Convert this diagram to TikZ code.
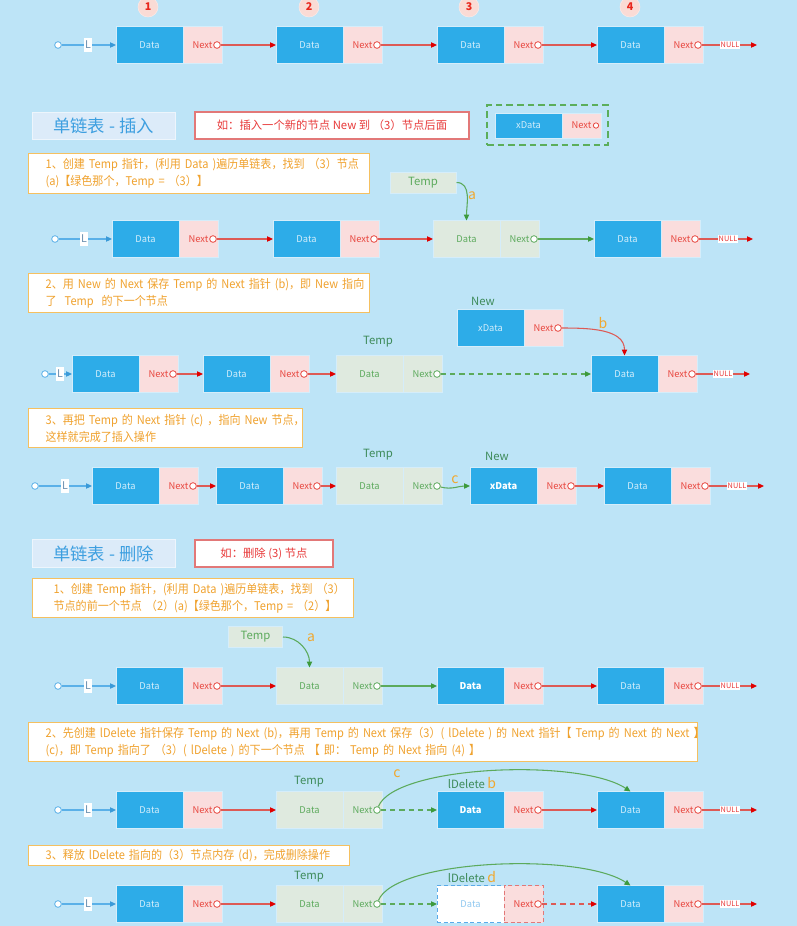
\documentclass[tikz,border=0pt]{standalone}
\usepackage{fontspec}
\setmainfont{Noto Sans CJK SC}
\newfontfamily\ofont[FakeStretch=0.92]{Noto Sans CJK SC}
\usetikzlibrary{arrows.meta}
\definecolor{bgc}{HTML}{BDE4F7}
\definecolor{dblue}{HTML}{2DACE8}
\definecolor{dtext}{HTML}{D4EEFB}
\definecolor{npink}{HTML}{FADDDD}
\definecolor{ntext}{HTML}{E8473F}
\definecolor{edgec}{HTML}{D5EDFA}
\definecolor{gfill}{HTML}{DFEADF}
\definecolor{gtext}{HTML}{5DAA5D}
\definecolor{gline}{HTML}{5CAA5C}
\definecolor{gtip}{HTML}{3D9A3D}
\definecolor{rline}{HTML}{DD5A55}
\definecolor{rtip}{HTML}{E00000}
\definecolor{bline}{HTML}{5AB0E8}
\definecolor{btip}{HTML}{3A9AD8}
\definecolor{lgray}{HTML}{6A8FAF}
\definecolor{numfill}{HTML}{FADBD5}
\definecolor{numtext}{HTML}{E8281E}
\definecolor{titfill}{HTML}{DCEBF9}
\definecolor{tittext}{HTML}{3D9FE0}
\definecolor{redbox}{HTML}{E27878}
\definecolor{redtext}{HTML}{E83A3A}
\definecolor{obord}{HTML}{F5C060}
\definecolor{otext}{HTML}{F0A22E}
\definecolor{dgreen}{HTML}{5BAE5B}
\definecolor{namec}{HTML}{3E8B5A}
\definecolor{letc}{HTML}{F0A830}
\definecolor{dashblue}{HTML}{5AAAE8}
\definecolor{ghosttext}{HTML}{90C8F0}
\newcommand\fsz[1]{\fontsize{#1pt}{#1pt}\selectfont}
\tikzset{
  box/.style={rectangle, inner sep=0pt, outer sep=0pt, draw=edgec, line width=0.75pt, minimum height=27.75pt},
  datab/.style={box, fill=dblue, text=dtext, minimum width=50.25pt, font=\fsz{7}},
  datad/.style={datab, text=white, font=\fsz{7}\bfseries},
  gdata/.style={box, fill=gfill, text=gtext, minimum width=50.25pt, font=\fsz{7}},
  nextb/.style={box, fill=npink, text=ntext, minimum width=29.25pt, font=\fsz{7}},
  gnext/.style={box, fill=gfill, text=gtext, minimum width=29.25pt, font=\fsz{7}},
  ghostd/.style={datab, fill=white, draw=dashblue, dash pattern=on 3pt off 2pt, text=ghosttext},
  ghostn/.style={nextb, draw=redbox, dash pattern=on 3pt off 2pt},
  ptrr/.style={circle, draw=ntext, fill=white, line width=0.6pt, minimum size=5pt, inner sep=0pt},
  ptrg/.style={ptrr, draw=gtext},
  startc/.style={circle, draw=bline, fill=white, line width=0.6pt, minimum size=5pt, inner sep=0pt},
  Llab/.style={fill=white, text=lgray, font=\fsz{8}, inner xsep=1pt, inner ysep=0.5pt, minimum height=11pt},
  nulll/.style={fill=white, text=redtext, font=\fsz{5.5}, inner sep=0.6pt},
  numc/.style={circle, fill=numfill, draw=numfill!60!white, text=numtext, font=\fsz{8}\bfseries, minimum size=15pt, inner sep=0pt},
  titleb/.style={rectangle, fill=titfill, draw=titfill!50!white, line width=0.75pt, text=tittext, font=\fsz{13}, minimum width=107.25pt, minimum height=20.5pt, inner sep=0pt},
  redb/.style={rectangle, fill=white, draw=redbox, line width=1pt, text=redtext, font=\fsz{8.5}, minimum height=20.25pt, inner sep=0pt},
  obox/.style={rectangle, fill=white, draw=obord, line width=1pt, text=otext, font=\ofont\fontsize{9pt}{12.75pt}\selectfont, align=left, anchor=north west, inner xsep=12.75pt, inner ysep=1pt},
  dashb/.style={rectangle, draw=dgreen, line width=1.5pt, dash pattern=on 5pt off 3pt, minimum width=90.75pt, minimum height=30pt, inner sep=0pt},
  tempb/.style={rectangle, fill=gfill, draw=edgec, line width=0.75pt, text=gtext, font=\fsz{8.5}, minimum height=15.75pt, inner sep=0pt},
  namel/.style={text=namec, font=\fsz{8.5}, inner sep=0pt},
  letl/.style={text=letc, font=\fsz{10.5}, inner sep=0pt},
  rline/.style={draw=rline, line width=0.8pt},
  rarr/.style={rline, -{Triangle[length=4.5pt,width=4pt,color=rtip]}},
  rdash/.style={rarr, dash pattern=on 4pt off 3pt},
  garr/.style={draw=gline, line width=0.8pt, -{Triangle[length=4.5pt,width=4pt,color=gtip]}},
  gdash/.style={garr, dash pattern=on 4pt off 3pt},
  bline/.style={draw=bline, line width=0.8pt},
  barr/.style={bline, -{Triangle[length=4.5pt,width=4pt,color=btip]}},
}
% name, x-left, y, data style, next style, pointer style, data text
\newcommand\LL[7]{%
  \node[#4, anchor=west] (#1) at (#2,#3) {#7};
  \node[#5, anchor=west] (#1n) at (#1.east) {Next};
  \node[#6] (#1p) at ([xshift=-3.75pt]#1n.east) {};
}
% prefix, circle x, L x, y, first node
\newcommand\LStart[5]{%
  \node[startc] (#1s) at (#2,#4) {};
  \node[Llab] (#1l) at (#3,#4) {L};
  \draw[bline] (#1s) -- (#1l);
  \draw[barr] (#1l) -- (#5.west);
}
% prefix, last pointer, null x, end x, y
\newcommand\LEnd[5]{%
  \node[nulll] (#1null) at (#3,#5) {NULL};
  \coordinate (#1end) at (#4,#5);
  \draw[rline] (#2) -- (#1null);
  \draw[rarr] (#1null) -- (#1end);
}
\begin{document}
\begin{tikzpicture}[x=0.75pt,y=-0.75pt]
\fill[bgc] (0,0) rectangle (797,926);
\useasboundingbox (0,0) rectangle (797,926);

% ---------- row 1 ----------
\node[numc] (num1) at (148,7) {1};
\node[numc] (num2) at (309,7) {2};
\node[numc] (num3) at (469,7) {3};
\node[numc] (num4) at (630,7) {4};
\LL{a1}{116}{45}{datab}{nextb}{ptrr}{Data}
\LL{a2}{276}{45}{datab}{nextb}{ptrr}{Data}
\LL{a3}{437}{45}{datab}{nextb}{ptrr}{Data}
\LL{a4}{597}{45}{datab}{nextb}{ptrr}{Data}
\LStart{a}{58}{88}{45}{a1}
\draw[rarr] (a1p) -- (a2.west);
\draw[rarr] (a2p) -- (a3.west);
\draw[rarr] (a3p) -- (a4.west);
\LEnd{a}{a4p}{730}{757}{45}

% ---------- insert header ----------
\node[titleb] (institle) at (103.5,126) {单链表 - 插入};
\node[redb, minimum width=205.5pt] (insex) at (332,125.5) {如：插入一个新的节点 New 到 （3）节点后面};
\node[dashb] (newbox) at (547.5,125) {};
\LL{x0}{495}{125.5}{datab,minimum height=18.75pt}{nextb,minimum height=18.75pt}{ptrr,minimum size=4pt}{xData}

\node[obox, text width=230.25pt, minimum height=30pt] (ins1) at (28,153)
  {\mbox{1、创建 Temp 指针，(利用 Data )遍历单链表，找到 （3）节点}\\\mbox{(a)【绿色那个，Temp = （3）】}};
\node[tempb, minimum width=49.5pt] (t1) at (423,182.5) {Temp};

% ---------- row 2 ----------
\LL{b1}{112}{239}{datab}{nextb}{ptrr}{Data}
\LL{b2}{273}{239}{datab}{nextb}{ptrr}{Data}
\LL{b3}{433}{239}{gdata}{gnext}{ptrg}{Data}
\LL{b4}{594}{239}{datab}{nextb}{ptrr}{Data}
\LStart{b}{55}{84}{239}{b1}
\draw[rarr] (b1p) -- (b2.west);
\draw[rarr] (b2p) -- (b3.west);
\draw[garr] (b3p) -- (b4.west);
\LEnd{b}{b4p}{728}{753}{239}
\draw[garr] (t1.east) to[out=0,in=90] (b3.north);
\node[letl] (la1) at (472,196) {a};

\node[obox, text width=230.25pt, minimum height=29.25pt] (ins2) at (28,273)
  {\mbox{2、用 New 的 Next 保存 Temp 的 Next 指针 (b)，即 New 指向}\\\mbox{了\ \ Temp\ \ 的下一个节点}};

% ---------- row 3 ----------
\LL{c1}{72}{374}{datab}{nextb}{ptrr}{Data}
\LL{c2}{203}{374}{datab}{nextb}{ptrr}{Data}
\LL{c3}{336}{374}{gdata}{gnext}{ptrg}{Data}
\LL{c4}{591}{374}{datab}{nextb}{ptrr}{Data}
\LL{cn}{457}{328}{datab}{nextb}{ptrr}{xData}
\LStart{c}{45}{60}{374}{c1}
\draw[rarr] (c1p) -- (c2.west);
\draw[rarr] (c2p) -- (c3.west);
\draw[gdash] (c3p) -- (c4.west);
\LEnd{c}{c4p}{723}{750}{374}
\node[namel] (ctemp) at (378,342) {Temp};
\node[namel] (cnew) at (483,301) {New};
\draw[rarr] (cnp) to[out=0,in=90] (c4.north);
\node[letl] (lb1) at (603,323) {b};

\node[obox, text width=180pt, minimum height=29.25pt] (ins3) at (28,408)
  {\mbox{3、再把 Temp 的 Next 指针 (c) ，指向 New 节点，}\\\mbox{这样就完成了插入操作}};

% ---------- row 4 ----------
\LL{d1}{92}{486}{datab}{nextb}{ptrr}{Data}
\LL{d2}{216}{486}{datab}{nextb}{ptrr}{Data}
\LL{d3}{336}{486}{gdata}{gnext}{ptrg}{Data}
\LL{dn}{470}{486}{datad}{nextb}{ptrr}{xData}
\LL{d4}{604}{486}{datab}{nextb}{ptrr}{Data}
\LStart{d}{35}{65}{486}{d1}
\draw[rarr] (d1p) -- (d2.west);
\draw[rarr] (d2p) -- (d3.west);
\draw[garr] (d3p) to[out=-15,in=180] (dn.west);
\draw[rarr] (dnp) -- (d4.west);
\LEnd{d}{d4p}{737}{764}{486}
\node[namel] (dtemp) at (378,455) {Temp};
\node[namel] (dnew) at (497,456) {New};
\node[letl] (lc1) at (455,480) {c};

% ---------- delete header ----------
\node[titleb] (deltitle) at (103.5,553.5) {单链表 - 删除};
\node[redb, minimum width=103.5pt] (delex) at (264,553.5) {如：删除 (3) 节点};
\node[obox, text width=215.25pt, minimum height=29.25pt, inner xsep=12.75pt] (del1) at (32,578)
  {\mbox{\ 1、创建 Temp 指针，(利用 Data )遍历单链表，找到 （3）}\\\mbox{\ 节点的前一个节点 （2）(a)【绿色那个，Temp = （2）】}};
\node[tempb, minimum width=40.5pt] (t2) at (255.5,637) {Temp};

% ---------- row 5 ----------
\LL{e1}{116}{686}{datab}{nextb}{ptrr}{Data}
\LL{e2}{276}{686}{gdata}{gnext}{ptrg}{Data}
\LL{e3}{437}{686}{datad}{nextb}{ptrr}{Data}
\LL{e4}{597}{686}{datab}{nextb}{ptrr}{Data}
\LStart{e}{58}{88}{686}{e1}
\draw[rarr] (e1p) -- (e2.west);
\draw[garr] (e2p) -- (e3.west);
\draw[rarr] (e3p) -- (e4.west);
\LEnd{e}{e4p}{730}{757}{686}
\draw[garr] (t2.east) to[out=0,in=90] (e2.north);
\node[letl] (la2) at (311,638) {a};

\node[obox, text width=476.25pt, minimum height=29.25pt] (del2) at (28,722)
  {\mbox{2、先创建 lDelete 指针保存 Temp 的 Next (b)，再用 Temp 的 Next 保存（3）( lDelete ) 的 Next 指针【 Temp 的 Next 的 Next 】}\\\mbox{(c)，即 Temp 指向了 （3）( lDelete ) 的下一个节点 【 即： Temp 的 Next 指向 (4) 】}};

% ---------- row 6 ----------
\LL{f1}{116}{810}{datab}{nextb}{ptrr}{Data}
\LL{f2}{276}{810}{gdata}{gnext}{ptrg}{Data}
\LL{f3}{437}{810}{datad}{nextb}{ptrr}{Data}
\LL{f4}{597}{810}{datab}{nextb}{ptrr}{Data}
\LStart{f}{58}{88}{810}{f1}
\draw[rarr] (f1p) -- (f2.west);
\draw[gdash] (f2p) -- (f3.west);
\draw[rarr] (f3p) -- (f4.west);
\LEnd{f}{f4p}{730}{757}{810}
\draw[garr] (f2p) .. controls (395,765) and (580,758) .. (f4.north);
\node[namel] (ftemp) at (309,782) {Temp};
\node[namel] (fdel) at (472,783) {lDelete \textcolor{letc}{\fsz{10.5}b}};
\node[letl] (lc2) at (397,774) {c};

\node[obox, text width=215.25pt, minimum height=15pt] (del3) at (28,845)
  {\mbox{3、释放 lDelete 指向的（3）节点内存 (d)，完成删除操作}};

% ---------- row 7 ----------
\LL{g1}{116}{904}{datab}{nextb}{ptrr}{Data}
\LL{g2}{276}{904}{gdata}{gnext}{ptrg}{Data}
\LL{g3}{437}{904}{ghostd}{ghostn}{ptrr}{Data}
\LL{g4}{597}{904}{datab}{nextb}{ptrr}{Data}
\LStart{g}{58}{88}{904}{g1}
\draw[rarr] (g1p) -- (g2.west);
\draw[gdash] (g2p) -- (g3.west);
\draw[rdash] (g3p) -- (g4.west);
\LEnd{g}{g4p}{730}{757}{904}
\draw[garr] (g2p) .. controls (395,859) and (580,852) .. (g4.north);
\node[namel] (gtemp) at (309,877) {Temp};
\node[namel] (gdel) at (472,877) {lDelete \textcolor{letc}{\fsz{10.5}d}};
\end{tikzpicture}
\end{document}
